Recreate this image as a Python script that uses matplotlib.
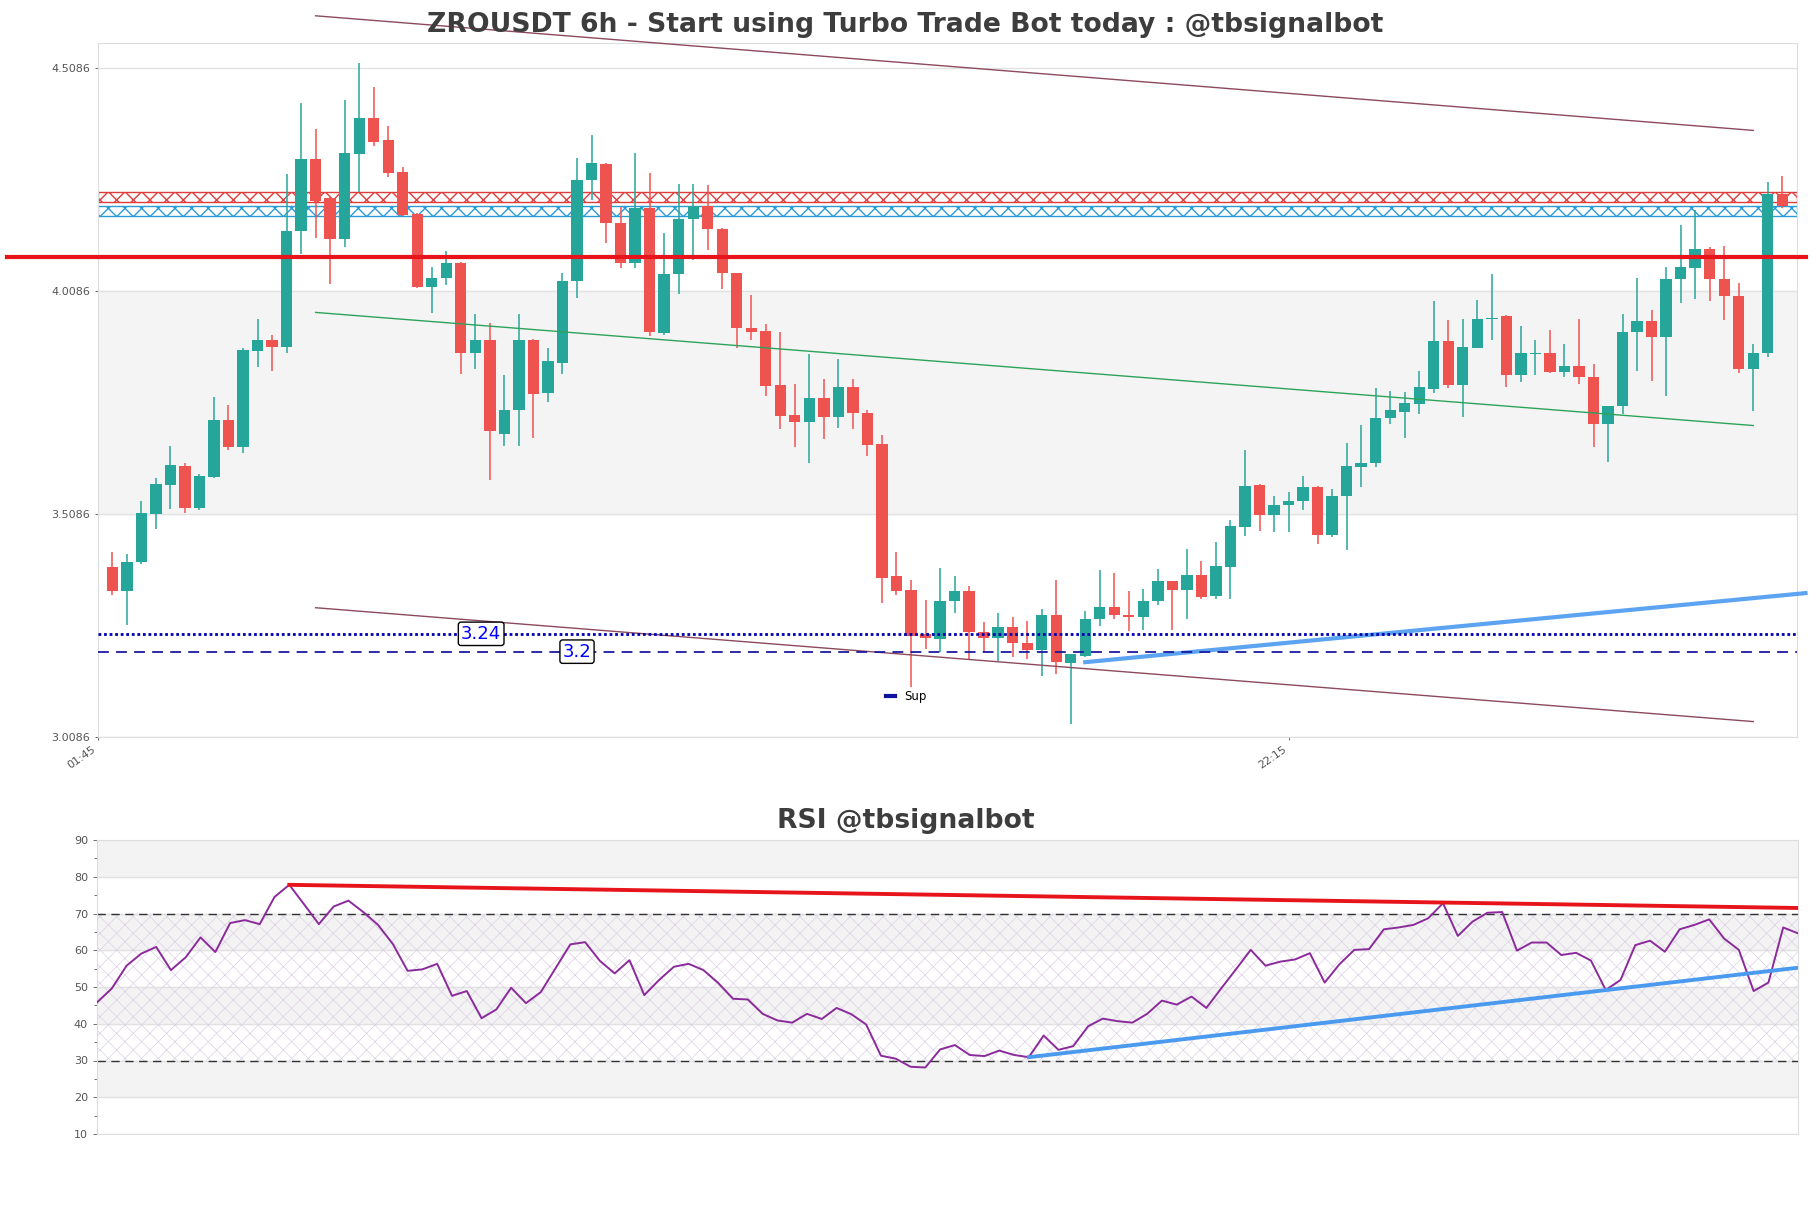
import matplotlib
matplotlib.use("Agg")
import matplotlib.pyplot as plt
from matplotlib.ticker import MultipleLocator

# ---- data (ZROUSDT, 6h candles) ----
opens = [3.389, 3.336, 3.400, 3.508, 3.574, 3.616, 3.522, 3.591, 3.719, 3.659,
         3.875, 3.899, 3.884, 4.144, 4.305, 4.218, 4.126, 4.317, 4.397, 4.348,
         4.276, 4.182, 4.018, 4.037, 4.072, 3.869, 3.900, 3.688, 3.741, 3.899,
         3.779, 3.848, 4.032, 4.257, 4.294, 4.161, 4.071, 4.194, 3.915, 4.047,
         4.170, 4.200, 4.148, 4.050, 3.925, 3.919, 3.797, 3.730, 3.715, 3.768,
         3.726, 3.793, 3.736, 3.665, 3.369, 3.339, 3.240, 3.228, 3.313, 3.335,
         3.245, 3.231, 3.255, 3.220, 3.204, 3.283, 3.175, 3.191, 3.274, 3.301,
         3.283, 3.277, 3.313, 3.358, 3.339, 3.371, 3.324, 3.390, 3.479, 3.573,
         3.507, 3.528, 3.538, 3.569, 3.462, 3.548, 3.614, 3.623, 3.723, 3.738,
         3.756, 3.790, 3.897, 3.798, 3.881, 3.945, 3.952, 3.820, 3.867, 3.869,
         3.828, 3.840, 3.815, 3.711, 3.750, 3.916, 3.941, 3.905, 4.036, 4.061,
         4.103, 4.035, 3.997, 3.833, 3.869, 4.226]
highs = [3.423, 3.418, 3.537, 3.589, 3.662, 3.622, 3.599, 3.770, 3.753, 3.881,
         3.947, 3.910, 4.271, 4.430, 4.372, 4.220, 4.437, 4.520, 4.466, 4.379,
         4.287, 4.184, 4.063, 4.099, 4.073, 3.958, 3.938, 3.820, 3.958, 3.901,
         3.880, 4.050, 4.307, 4.359, 4.296, 4.198, 4.318, 4.273, 4.138, 4.249,
         4.249, 4.247, 4.151, 4.050, 3.999, 3.935, 3.917, 3.801, 3.867, 3.812,
         3.856, 3.811, 3.741, 3.685, 3.423, 3.361, 3.315, 3.388, 3.369, 3.348,
         3.266, 3.287, 3.277, 3.268, 3.295, 3.361, 3.195, 3.292, 3.384, 3.376,
         3.336, 3.341, 3.386, 3.359, 3.431, 3.403, 3.447, 3.496, 3.652, 3.575,
         3.550, 3.558, 3.595, 3.571, 3.564, 3.667, 3.708, 3.792, 3.784, 3.782,
         3.830, 3.986, 3.944, 3.946, 3.988, 4.048, 3.956, 3.930, 3.899, 3.921,
         3.890, 3.946, 3.845, 3.752, 3.958, 4.039, 3.966, 4.063, 4.157, 4.190,
         4.107, 4.110, 4.026, 3.890, 4.253, 4.267]
lows = [3.328, 3.259, 3.396, 3.475, 3.520, 3.512, 3.518, 3.589, 3.653, 3.646,
        3.839, 3.830, 3.870, 4.092, 4.128, 4.025, 4.108, 4.230, 4.333, 4.264,
        4.176, 4.015, 3.959, 4.022, 3.822, 3.835, 3.584, 3.661, 3.661, 3.679,
        3.759, 3.822, 3.994, 4.213, 4.116, 4.060, 4.060, 3.908, 3.910, 4.002,
        4.078, 4.101, 4.014, 3.880, 3.899, 3.773, 3.699, 3.659, 3.623, 3.676,
        3.702, 3.699, 3.639, 3.310, 3.326, 3.120, 3.206, 3.199, 3.286, 3.182,
        3.199, 3.179, 3.189, 3.183, 3.146, 3.149, 3.038, 3.188, 3.258, 3.274,
        3.246, 3.249, 3.304, 3.249, 3.274, 3.319, 3.319, 3.319, 3.459, 3.470,
        3.468, 3.468, 3.517, 3.442, 3.457, 3.429, 3.569, 3.614, 3.711, 3.679,
        3.734, 3.780, 3.792, 3.726, 3.880, 3.899, 3.794, 3.805, 3.820, 3.824,
        3.816, 3.801, 3.659, 3.625, 3.734, 3.830, 3.807, 3.773, 3.981, 3.992,
        3.987, 3.944, 3.824, 3.740, 3.860, 4.194]
closes = [3.336, 3.402, 3.510, 3.575, 3.618, 3.522, 3.593, 3.719, 3.659, 3.876,
          3.899, 3.884, 4.144, 4.305, 4.211, 4.126, 4.318, 4.397, 4.344, 4.274,
          4.179, 4.017, 4.039, 4.071, 3.869, 3.900, 3.694, 3.743, 3.899, 3.777,
          3.851, 4.031, 4.258, 4.295, 4.161, 4.071, 4.196, 3.917, 4.047, 4.170,
          4.200, 4.147, 4.050, 3.925, 3.917, 3.796, 3.729, 3.715, 3.768, 3.726,
          3.793, 3.735, 3.663, 3.365, 3.336, 3.236, 3.231, 3.313, 3.335, 3.244,
          3.230, 3.255, 3.219, 3.204, 3.283, 3.176, 3.195, 3.274, 3.301, 3.283,
          3.277, 3.313, 3.358, 3.339, 3.371, 3.322, 3.391, 3.481, 3.571, 3.507,
          3.528, 3.537, 3.569, 3.462, 3.548, 3.616, 3.622, 3.723, 3.741, 3.758,
          3.794, 3.897, 3.798, 3.884, 3.946, 3.949, 3.820, 3.869, 3.870, 3.828,
          3.840, 3.815, 3.711, 3.750, 3.916, 3.941, 3.905, 4.035, 4.063, 4.103,
          4.035, 3.997, 3.833, 3.869, 4.226, 4.199]

rsi = [45.8, 49.6, 55.8, 59.1, 60.9, 54.6, 58.1, 63.5, 59.5, 67.4,
       68.2, 67.1, 74.5, 77.8, 72.5, 67.1, 71.9, 73.5, 70.4, 66.9,
       61.7, 54.4, 54.8, 56.3, 47.6, 48.9, 41.5, 43.9, 49.8, 45.6,
       48.6, 55.1, 61.6, 62.2, 57.1, 53.7, 57.3, 47.8, 51.9, 55.5,
       56.3, 54.6, 51.1, 46.8, 46.6, 42.7, 40.9, 40.3, 42.7, 41.3,
       44.3, 42.6, 39.8, 31.3, 30.5, 28.3, 28.1, 33.0, 34.2, 31.5,
       31.2, 32.7, 31.5, 30.9, 36.8, 32.9, 33.9, 39.3, 41.4, 40.7,
       40.3, 42.7, 46.3, 45.2, 47.4, 44.3, 49.6, 54.8, 60.1, 55.8,
       56.9, 57.5, 59.2, 51.2, 56.2, 60.1, 60.3, 65.7, 66.2, 66.9,
       68.7, 72.8, 63.9, 67.8, 70.2, 70.4, 59.9, 62.1, 62.1, 58.7,
       59.3, 57.2, 49.2, 51.9, 61.4, 62.6, 59.6, 65.7, 66.9, 68.4,
       63.2, 60.1, 48.9, 51.2, 66.2, 64.6]

price_ticks = [3.0086, 3.5086, 4.0086, 4.5086]
time_ticks = [-1, 81]
time_labels = ["01:45", "22:15"]
rsi_ticks = [10, 20, 30, 40, 50, 60, 70, 80, 90]

resistance = 4.0843
res_zone = [4.2078, 4.2300]
sup_zone = [4.1777, 4.1994]
supports = [3.24, 3.2]
support_label_x = [25.4, 32.0]

# trend lines as [x0, y0, x1, y1] (candle index, price)
upper_channel = [14, 4.626, 113, 4.369]
lower_channel = [14, 3.2985, 113, 3.0432]
mid_line = [14, 3.9608, 113, 3.7071]
support_trend = [67, 3.1764, 116.6, 3.3313]
resistance_span = [-7.25, 116.6]

rsi_res_trend = [13, 77.8, 115, 71.5]
rsi_sup_trend = [63, 30.9, 115, 55.25]

UP = '#26a69a'
DOWN = '#ef5350'
TXT = '#3d3d3d'

fig = plt.figure(figsize=(18.11, 12.08), dpi=100)
W, H = 1811, 1208
ax = fig.add_axes([97.8 / W, 1 - 737 / H, 1699 / W, 694 / H])
ax2 = fig.add_axes([97 / W, 1 - 1134 / H, 1701 / W, 294 / H])

# ---------------- price panel ----------------
n = len(closes)
ax.set_xlim(-1, n)
ax.set_ylim(3.0086, 4.565)
ax.axhspan(price_ticks[1], price_ticks[2], color='#f4f4f4', zorder=0)
for t in price_ticks:
    ax.axhline(t, color='#e2e2e2', lw=1, zorder=0.5)

for i in range(n):
    o, h, l, c = opens[i], highs[i], lows[i], closes[i]
    col = UP if c >= o else DOWN
    ax.vlines(i, l, h, color=col, lw=1.1, zorder=3)
    ax.bar(i, abs(c - o) if abs(c - o) > 0.002 else 0.003, bottom=min(o, c),
           width=0.78, color=col, zorder=4)

# zones
plt.rcParams['hatch.linewidth'] = 1.0
ax.axhspan(res_zone[0], res_zone[1], fill=False, hatch='xx', edgecolor='#e23b3b', lw=1, zorder=2)
ax.axhspan(sup_zone[0], sup_zone[1], fill=False, hatch='xx', edgecolor='#2b9bd6', lw=1, zorder=2)

ax.plot(resistance_span, [resistance, resistance], color='#e8141c', lw=3, clip_on=False, zorder=5)

for ln, col, lw in [(upper_channel, '#8c4a5c', 1.0), (lower_channel, '#8c4a5c', 1.0),
                    (mid_line, '#2ca35a', 1.0)]:
    ax.plot([ln[0], ln[2]], [ln[1], ln[3]], color=col, lw=lw, clip_on=False, zorder=5)
ax.plot([support_trend[0], support_trend[2]], [support_trend[1], support_trend[3]],
        color='#4a9af0', lw=3, alpha=0.9, clip_on=False, zorder=5)

ax.axhline(supports[0], color='#0000b0', lw=2, ls=(0, (1, 1)), zorder=5)
ax.axhline(supports[1], color='#1a1aa0', lw=1.3, ls=(0, (6, 4)), zorder=5)
for lvl, lx in zip(supports, support_label_x):
    ax.text(lx, lvl, f"{lvl:g}", color='blue', fontsize=13, ha='center', va='center', zorder=6,
            bbox=dict(boxstyle='round,pad=0.15', fc='white', ec='black', lw=1))

sup_handle = plt.Line2D([], [], color='#1010a0', lw=3)
ax.legend([sup_handle], ['Sup'], loc='center', bbox_to_anchor=(0.476, 0.058), frameon=False,
          fontsize=8.5, handlelength=0.7, handletextpad=0.8)

ax.set_yticks(price_ticks)
ax.set_yticklabels([f"{t:.4f}" for t in price_ticks])
ax.set_xticks(time_ticks)
ax.set_xticklabels(time_labels, rotation=35, ha='right')
ax.tick_params(axis='both', labelsize=8, colors='#555555', length=2, width=0.6)
for s in ax.spines.values():
    s.set_color('#dddddd')

fig.text(0.5, 1 - 25 / H, "ZROUSDT 6h - Start using Turbo Trade Bot today : @tbsignalbot",
         ha='center', va='center', fontsize=19.2, fontweight='bold', color=TXT)

# ---------------- RSI panel ----------------
x = list(range(len(rsi)))
ax2.set_xlim(0, len(rsi) - 1)
ax2.set_ylim(10, 90)
for lo in [20, 40, 60, 80]:
    ax2.axhspan(lo, lo + 10, color='#f3f3f4', zorder=0)
for t in rsi_ticks:
    ax2.axhline(t, color='#e2e2e2', lw=1, zorder=0.5)
plt.rcParams['hatch.linewidth'] = 0.5
ax2.fill_between(x, 30, 70, facecolor='none', edgecolor='#dcd0e4', hatch='xx', lw=0, zorder=1)
ax2.axhline(70, color='#333333', lw=1, ls=(0, (6, 4)), zorder=2)
ax2.axhline(30, color='#333333', lw=1, ls=(0, (6, 4)), zorder=2)
ax2.plot(x, rsi, color='#8b2a9b', lw=1.4, zorder=4)
ax2.plot([rsi_res_trend[0], rsi_res_trend[2]], [rsi_res_trend[1], rsi_res_trend[3]],
         color='#e8141c', lw=2.8, zorder=5)
ax2.plot([rsi_sup_trend[0], rsi_sup_trend[2]], [rsi_sup_trend[1], rsi_sup_trend[3]],
         color='#4a9af0', lw=2.8, zorder=5)

ax2.set_yticks(rsi_ticks)
ax2.yaxis.set_minor_locator(MultipleLocator(5))
ax2.set_xticks([])
ax2.tick_params(axis='y', which='both', labelsize=8, colors='#555555', length=3, width=0.6)
ax2.tick_params(axis='y', which='minor', length=2)
for s in ax2.spines.values():
    s.set_color('#dddddd')

fig.text(0.5, 1 - 821 / H, "RSI @tbsignalbot", ha='center', va='center',
         fontsize=19.2, fontweight='bold', color=TXT)

fig.savefig("out.png", dpi=100)
